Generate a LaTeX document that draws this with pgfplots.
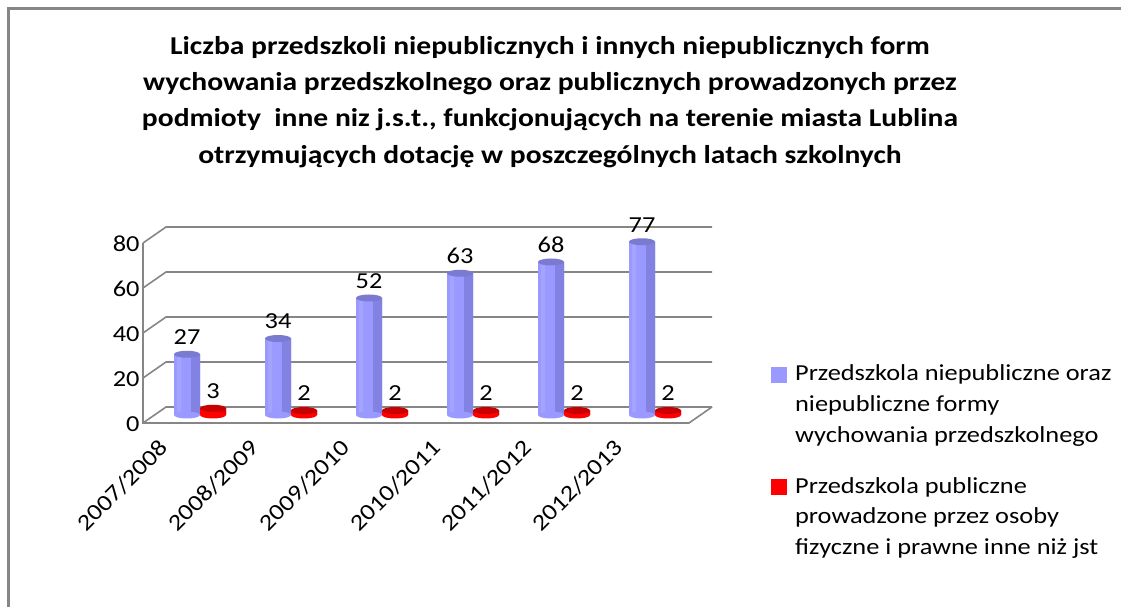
\documentclass[border=0pt]{standalone}
\usepackage{fontspec}
\setmainfont{Carlito}[FakeStretch=1.15]
\usepackage{pgfplots}
\pgfplotsset{compat=1.18}
\definecolor{gridgray}{RGB}{134,134,134}
\definecolor{bL}{RGB}{164,164,255}
\definecolor{bB}{RGB}{153,153,255}
\definecolor{bD}{RGB}{130,130,226}
\definecolor{bTop}{RGB}{122,122,208}
\definecolor{rB}{RGB}{255,0,0}
\definecolor{rD}{RGB}{222,0,0}
\definecolor{rTop}{RGB}{200,0,0}
\definecolor{legblue}{RGB}{153,153,255}
\definecolor{legred}{RGB}{255,0,0}
\pgfdeclareplotmark{cyltop}{\pgfpathellipse{\pgfpointorigin}{\pgfqpoint{13bp}{0bp}}{\pgfqpoint{0bp}{3.5bp}}\pgfusepathqfill}
\begin{document}
\begin{tikzpicture}[x=1bp,y=1bp]
\useasboundingbox (0,0) rectangle (1121,607);
\draw[gridgray, line width=2.7bp] (8.5,-30) -- (8.5,598.5) -- (1150,598.5);
\node[font=\bfseries\fontsize{25.8}{36.4}\selectfont, align=center, anchor=north, inner sep=0pt] at (550,571)
 {Liczba przedszkoli niepublicznych i innych niepublicznych form\\
  wychowania przedszkolnego oraz publicznych prowadzonych przez\\
  podmioty~ inne niz j.s.t., funkcjonujących na terenie miasta Lublina\\
  otrzymujących dotację w poszczególnych latach szkolnych};
\begin{axis}[
  at={(154.5bp,192bp)}, anchor=south west,
  scale only axis, width=546bp, height=180bp,
  xmin=-0.5, xmax=5.5, ymin=0, ymax=80,
  clip=false,
  axis line style={draw=none}, major tick length=0pt,
  ytick={0,20,40,60,80},
  xtick={0,1,2,3,4,5},
  xticklabels={2007/2008,2008/2009,2009/2010,2010/2011,2011/2012,2012/2013},
  /pgf/number format/assume math mode=true,
  ticklabel style={font=\fontsize{23}{28}\selectfont},
  yticklabel style={xshift=-11.5bp, yshift=-9bp},
  xticklabel style={xshift=-42bp, yshift=-23bp, rotate=45, anchor=north east, inner sep=0pt},
  legend style={at={(axis description cs:1.129,0.29)}, anchor=north west, draw=none, fill=none,
    font=\fontsize{23}{31}\selectfont, cells={align=left}, row sep=29bp, column sep=6bp,
    inner sep=0pt},
  legend cell align=left,
]
% back wall grid lines and left wall diagonals
\pgfplotsinvokeforeach{0,20,40,60,80}{
  \draw[gridgray, line width=1.6bp] ([xshift=-11.5bp,yshift=-8bp]axis cs:-0.5,#1) -- ([xshift=11.5bp,yshift=8bp]axis cs:-0.5,#1) -- ([xshift=11.5bp,yshift=8bp]axis cs:5.5,#1);
}
\draw[gridgray, line width=1.6bp] ([xshift=-11.5bp,yshift=-8bp]axis cs:-0.5,80) -- ([xshift=-11.5bp,yshift=-8bp]axis cs:-0.5,0) -- ([xshift=-11.5bp,yshift=-8bp]axis cs:5.5,0) -- ([xshift=11.5bp,yshift=8bp]axis cs:5.5,0);
% blue cylinders
\addplot[only marks, mark=cyltop, fill=bB, draw=none, xshift=-13bp, forget plot] coordinates {(0,0) (1,0) (2,0) (3,0) (4,0) (5,0)};
\addplot[ybar, bar width=26bp, bar shift=-13bp, draw=none, fill=bB,
  nodes near coords, every node near coord/.append style={font=\fontsize{23}{28}\selectfont, text=black, xshift=-13bp, yshift=6bp},
  legend image code/.code={\fill[legblue] (0bp,22bp) rectangle (16bp,38bp);}]
  coordinates {(0,27) (1,34) (2,52) (3,63) (4,68) (5,77)};
\addlegendentry{Przedszkola niepubliczne oraz\\niepubliczne formy\\wychowania przedszkolnego}
\addplot[ybar, bar width=4bp, bar shift=-21bp, draw=none, fill=bL, forget plot]
  coordinates {(0,27) (1,34) (2,52) (3,63) (4,68) (5,77)};
\addplot[ybar, bar width=9bp, bar shift=-4.5bp, draw=none, fill=bD, forget plot]
  coordinates {(0,27) (1,34) (2,52) (3,63) (4,68) (5,77)};
\addplot[only marks, mark=cyltop, fill=bTop, draw=none, xshift=-13bp, forget plot] coordinates {(0,27) (1,34) (2,52) (3,63) (4,68) (5,77)};
% red cylinders
\addplot[only marks, mark=cyltop, fill=rB, draw=none, xshift=13bp, forget plot] coordinates {(0,0) (1,0) (2,0) (3,0) (4,0) (5,0)};
\addplot[ybar, bar width=26bp, bar shift=13bp, draw=none, fill=rB,
  nodes near coords, every node near coord/.append style={font=\fontsize{23}{28}\selectfont, text=black, xshift=13bp, yshift=6bp},
  legend image code/.code={\fill[legred] (0bp,22bp) rectangle (16bp,38bp);}]
  coordinates {(0,3) (1,2) (2,2) (3,2) (4,2) (5,2)};
\addlegendentry{Przedszkola publiczne\\prowadzone przez osoby\\fizyczne i prawne inne niż jst}
\addplot[ybar, bar width=9bp, bar shift=21.5bp, draw=none, fill=rD, forget plot]
  coordinates {(0,3) (1,2) (2,2) (3,2) (4,2) (5,2)};
\addplot[only marks, mark=cyltop, fill=rTop, draw=none, xshift=13bp, forget plot] coordinates {(0,3) (1,2) (2,2) (3,2) (4,2) (5,2)};
\end{axis}
\end{tikzpicture}
\end{document}
